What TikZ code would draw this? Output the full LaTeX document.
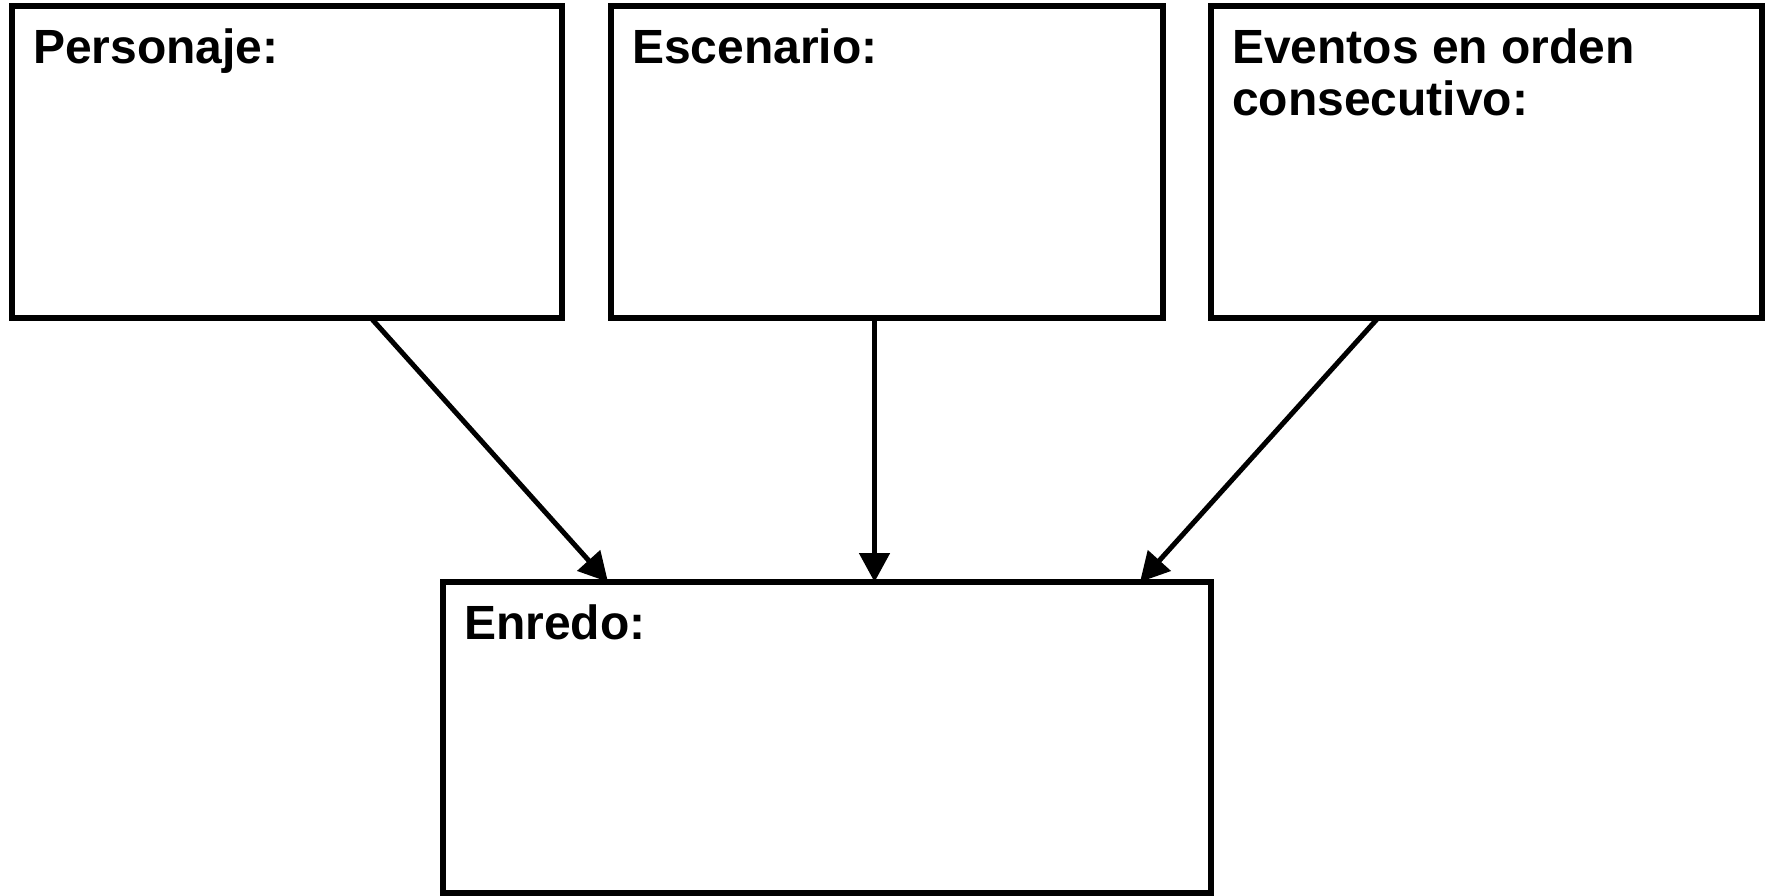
\documentclass[tikz,border=0pt]{standalone}
\usepackage{fontspec}
\setmainfont{Liberation Sans}
\usetikzlibrary{arrows.meta}
\begin{document}
\begin{tikzpicture}[x=1pt,y=-1pt,
  box/.style={draw=black,line width=5.5pt,minimum height=312pt,inner sep=0pt,outer sep=0pt},
  lbl/.style={inner sep=0pt,outer sep=0pt,font=\fontsize{48}{52}\selectfont\bfseries,align=left},
  arr/.style={line width=5pt,-{Triangle[length=29pt,width=30pt]}}]
\useasboundingbox (0,0) rectangle (1765,895);
\node[box,minimum width=550pt] (b1) at (287,162) {};
\node[box,minimum width=552pt] (b2) at (887,162) {};
\node[box,minimum width=551pt] (b3) at (1486.5,162) {};
\node[box,minimum width=768pt,minimum height=311pt] (b4) at (827,737.5) {};
\node[lbl,anchor=base west] (t1) at ([xshift=21pt,yshift=-57pt]b1.north west) {Personaje:};
\node[lbl,anchor=base west] (t2) at ([xshift=21pt,yshift=-57pt]b2.north west) {Escenario:};
\node[lbl,anchor=base west] (t3) at ([xshift=21pt,yshift=-109pt]b3.north west) {Eventos en orden\\consecutivo:};
\node[lbl,anchor=base west] (t4) at ([xshift=21pt,yshift=-57pt]b4.north west) {Enredo:};
\draw[arr] ([xshift=84pt]b1.south) -- ([xshift=-219pt]b4.north);
\draw[arr] ([xshift=-12.5pt]b2.south) -- ([xshift=47.5pt]b4.north);
\draw[arr] ([xshift=-108.5pt]b3.south) -- ([xshift=313pt]b4.north);
\end{tikzpicture}
\end{document}
